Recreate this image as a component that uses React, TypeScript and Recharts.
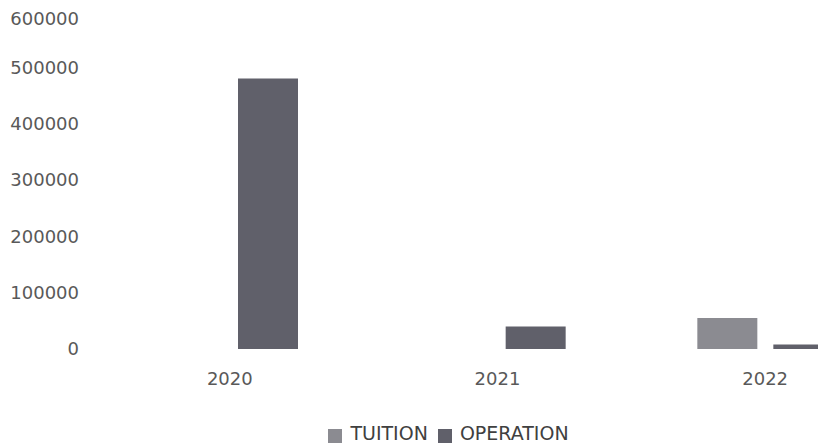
import React from 'react';
import { BarChart, Bar, XAxis, YAxis, Legend } from 'recharts';

const years = ['2020', '2021', '2022'];
const tuition = [0, 0, 55000];
const operation = [480000, 40000, 8000];
const yTicks = [0, 100000, 200000, 300000, 400000, 500000, 600000];
const seriesOrder = ['TUITION', 'OPERATION'];

const data = years.map((year, i) => ({ year, TUITION: tuition[i], OPERATION: operation[i] }));

const font = { fontFamily: '"DejaVu Sans", sans-serif', fontSize: 18, fill: '#595959' };

export default function App() {
  return (
    <div style={{ width: 818, height: 440, overflow: 'hidden' }}>
      <BarChart
        width={898}
        height={440}
        data={data}
        margin={{ top: 3, right: 7, bottom: 4, left: 0 }}
        barSize={60}
        barGap={16}
      >
        <XAxis
          dataKey="year"
          axisLine={false}
          tickLine={false}
          tickSize={0}
          tickMargin={23}
          height={73}
          tick={font}
        />
        <YAxis
          domain={[0, 600000]}
          ticks={yTicks}
          axisLine={false}
          tickLine={false}
          tickSize={0}
          tickMargin={17}
          width={88}
          tick={font}
        />
        <Legend
          verticalAlign="bottom"
          iconType="square"
          iconSize={14}
          itemSorter={(item: any) => seriesOrder.indexOf(String(item.dataKey))}
          formatter={(value) => (
            <span style={{ color: '#404040', fontFamily: '"DejaVu Sans", sans-serif', fontSize: 19, marginLeft: 4 }}>{value}</span>
          )}
        />
        <Bar dataKey="TUITION" fill="#8b8b91" isAnimationActive={false} />
        <Bar dataKey="OPERATION" fill="#60606a" isAnimationActive={false} />
      </BarChart>
    </div>
  );
}
